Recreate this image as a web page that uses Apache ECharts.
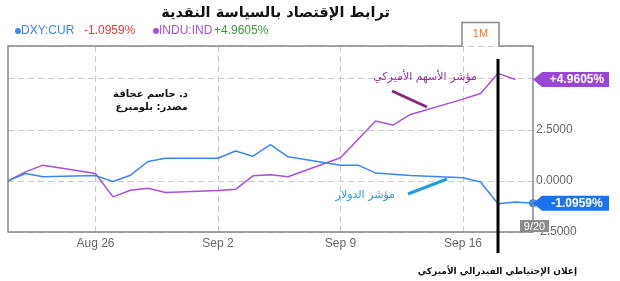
<!DOCTYPE html>
<html><head><meta charset="utf-8">
<script src="https://cdn.jsdelivr.net/npm/echarts@6/dist/echarts.min.js"></script>
<style>html,body{margin:0;padding:0;background:#fff}#c{width:620px;height:281px}</style>
</head><body><div id="c"></div>
<script>
// ---- data ----
const dates = ['Aug 21','Aug 22','Aug 23','Aug 24','Aug 25','Aug 26','Aug 27','Aug 28','Aug 29','Aug 30','Aug 31',
  'Sep 1','Sep 2','Sep 3','Sep 4','Sep 5','Sep 6','Sep 7','Sep 8','Sep 9','Sep 10','Sep 11','Sep 12','Sep 13',
  'Sep 14','Sep 15','Sep 16','Sep 17','Sep 18','Sep 19','Sep 20'];
const dxy = [0, 0.36, 0.20, null, null, 0.26, -0.03, 0.28, 0.95, 1.11, null,
  null, 1.11, 1.46, 1.21, 1.77, 1.18, null, null, 0.77, 0.77, 0.39, 0.33, 0.26,
  null, null, 0.15, -0.05, -1.12, -1.03, -1.0959];
const indu = [0, 0.44, 0.77, null, null, 0.36, -0.78, -0.46, -0.36, -0.57, null,
  null, -0.47, -0.41, 0.25, 0.30, 0.20, null, null, 1.13, 2.03, 2.93, 2.73, 3.25,
  null, null, 4.00, 4.28, 5.26, 4.9605, null];
const xLabels = ['Aug 26','Sep 2','Sep 9','Sep 16'];
const yLabels = [-2.5, 0, 2.5];
const dxyLast = -1.0959, induLast = 4.9605;
const fedDate = 'Sep 18';

const BLUE = '#3b86f5', PURPLE = '#a651d8';
const ar = '"DejaVu Sans", sans-serif';
const lat = '"Liberation Sans", Arial, sans-serif';

const chart = echarts.init(document.getElementById('c'), null, {renderer: 'canvas'});
const showLbl = (i, v) => xLabels.indexOf(v) >= 0;
const dxyData = dxy.map((v, i) => i === dxy.length - 1 ? {value: v, symbol: 'circle', symbolSize: 8} : v);

chart.setOption({
  animation: false,
  grid: {left: 8, right: 87, top: 46, bottom: 49},
  xAxis: {
    type: 'category', data: dates, boundaryGap: false,
    axisLine: {onZero: false, lineStyle: {color: '#888', width: 1.5}},
    axisTick: {show: false},
    axisLabel: {interval: showLbl, color: '#666', fontFamily: lat, fontSize: 12, margin: 6},
    splitLine: {show: true, interval: showLbl, lineStyle: {color: '#c8c8c8', type: [6, 4]}}
  },
  yAxis: {
    type: 'value', position: 'right', min: -2.5, max: 6.6, interval: 2.5,
    axisLine: {show: false}, axisTick: {show: false},
    axisLabel: {color: '#666', fontFamily: lat, fontSize: 12, margin: 3,
      formatter: v => yLabels.some(t => Math.abs(t - v) < 1e-6) ? v.toFixed(4) : ''},
    splitLine: {lineStyle: {color: '#c8c8c8', type: [6, 4]}}
  },
  series: [
    {name: 'DXY:CUR', type: 'line', data: dxyData, connectNulls: true, symbol: 'none',
      lineStyle: {color: BLUE, width: 1.5}, itemStyle: {color: BLUE}, z: 3},
    {name: 'INDU:IND', type: 'line', data: indu, connectNulls: true, symbol: 'none',
      lineStyle: {color: PURPLE, width: 1.5}, itemStyle: {color: PURPLE}, z: 2}
  ]
});

const px = (d) => chart.convertToPixel({xAxisIndex: 0}, d);
const py = (v) => chart.convertToPixel({yAxisIndex: 0}, v);
const L = 8, R = 533, T = 46, B = 232;
const xFed = px(fedDate), xEnd = px(dates[dates.length - 1]);
const yP = py(induLast), yB = py(dxyLast);

function tag(y, color, text) {
  return [
    {type: 'polygon', z: 20, shape: {points: [[R, y], [R + 9, y - 7.5], [R + 76, y - 7.5], [R + 76, y + 7.5], [R + 9, y + 7.5]]},
      style: {fill: color}},
    {type: 'text', z: 21, x: R + 44, y: y, style: {text: text, fill: '#fff', font: 'bold 12px ' + lat, align: 'center', verticalAlign: 'middle'}}
  ];
}

chart.setOption({
  graphic: [
    // frame with tab
    {type: 'polyline', z: 10, shape: {points: [[L, B], [L, T], [462, T], [462, 22.5], [499, 22.5], [499, T], [R, T], [R, B]]},
      style: {stroke: '#888', lineWidth: 1.5, fill: null}},
    {type: 'text', z: 11, x: 480.5, y: 34, style: {text: '1M', fill: '#f07a2a', font: '11px ' + lat, align: 'center', verticalAlign: 'middle'}},
    // title
    {type: 'text', x: 390, y: 13, style: {text: 'ترابط الإقتصاد بالسياسة النقدية', fill: '#111', font: 'bold 14.5px ' + ar, align: 'right', verticalAlign: 'middle'}},
    // legend
    {type: 'circle', shape: {cx: 18, cy: 31, r: 3}, style: {fill: BLUE}},
    {type: 'text', x: 21, y: 31, style: {text: 'DXY:CUR', fill: BLUE, font: '12px ' + lat, verticalAlign: 'middle'}},
    {type: 'text', x: 84, y: 31, style: {text: '-1.0959%', fill: '#e23b3b', font: '12px ' + lat, verticalAlign: 'middle'}},
    {type: 'circle', shape: {cx: 156, cy: 31, r: 3}, style: {fill: PURPLE}},
    {type: 'text', x: 159, y: 31, style: {text: 'INDU:IND', fill: PURPLE, font: '12px ' + lat, verticalAlign: 'middle'}},
    {type: 'text', x: 214, y: 31, style: {text: '+4.9605%', fill: '#3c9a3c', font: '12px ' + lat, verticalAlign: 'middle'}},
    // author / source
    {type: 'text', x: 188, y: 94, style: {text: 'د. جاسم عجاقة', fill: '#111', font: 'bold 10px ' + ar, align: 'right', verticalAlign: 'middle'}},
    {type: 'text', x: 188, y: 107, style: {text: 'مصدر: بلومبرغ', fill: '#111', font: 'bold 10px ' + ar, align: 'right', verticalAlign: 'middle'}},
    // annotations
    {type: 'text', x: 477, y: 77, style: {text: 'مؤشر الأسهم الأميركي', fill: '#93358f', font: '11px ' + ar, align: 'right', verticalAlign: 'middle'}},
    {type: 'line', shape: {x1: 392, y1: 91, x2: 427, y2: 107}, style: {stroke: '#8a2a80', lineWidth: 3}},
    {type: 'text', x: 395, y: 195, style: {text: 'مؤشر الدولار', fill: '#1f9de0', font: '11px ' + ar, align: 'right', verticalAlign: 'middle'}},
    {type: 'line', shape: {x1: 408, y1: 194, x2: 447, y2: 179}, style: {stroke: '#1f9de0', lineWidth: 3}},
    // fed line
    {type: 'line', z: 15, shape: {x1: xFed, y1: 59, x2: xFed, y2: 253}, style: {stroke: '#000', lineWidth: 3}},
    {type: 'text', x: 577, y: 272, style: {text: 'إعلان الإحتياطي الفيدرالي الأميركي', fill: '#111', font: 'bold 9px ' + ar, align: 'right', verticalAlign: 'middle'}},
    // date box
    {type: 'rect', z: 18, shape: {x: xEnd - 13, y: 220, width: 29, height: 12}, style: {fill: '#8c8c8c'}},
    {type: 'text', z: 19, x: xEnd + 1.5, y: 226.5, style: {text: '9/20', fill: '#fff', font: '11px ' + lat, align: 'center', verticalAlign: 'middle'}},
    ...tag(yP, '#9a47d8', '+4.9605%'),
    ...tag(yB, '#1a74f2', '-1.0959%')
  ]
});
</script></body></html>
